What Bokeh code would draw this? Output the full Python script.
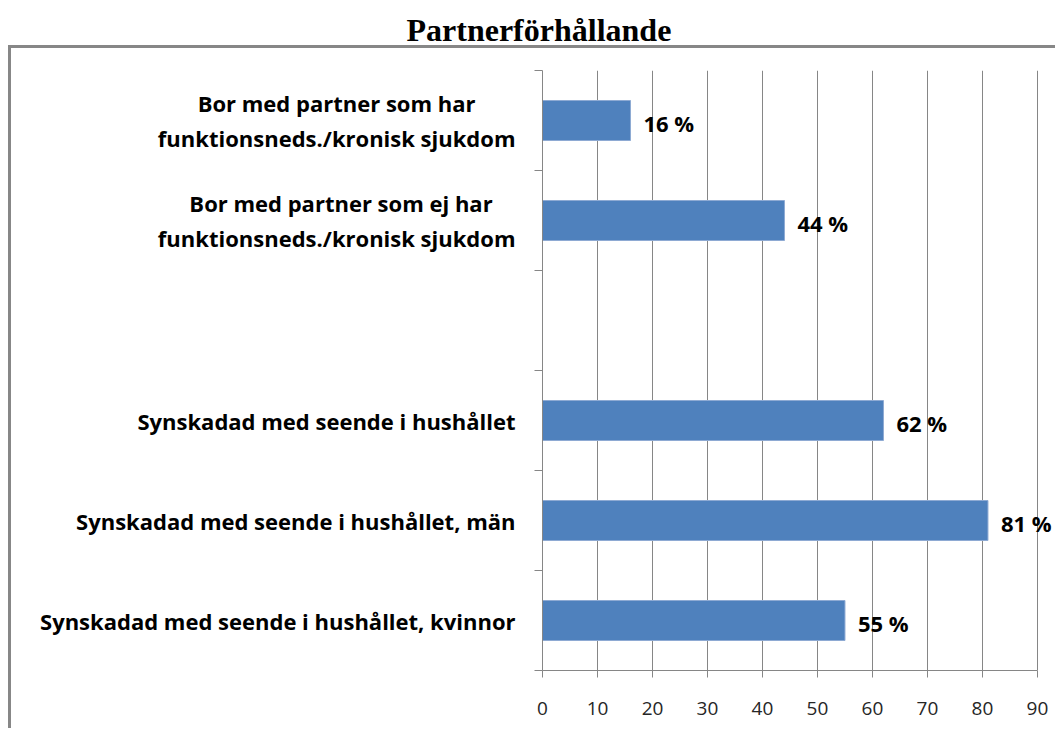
from bokeh.plotting import figure
from bokeh.models import Range1d, FixedTicker, ColumnDataSource, LinearAxis
from bokeh.core.properties import value
from bokeh.embed import file_html
from bokeh.resources import INLINE

title = "Partnerförhållande"
categories = [
    "Bor med partner som har\nfunktionsneds./kronisk sjukdom",
    "Bor med partner som ej har\nfunktionsneds./kronisk sjukdom",
    "",
    "Synskadad med seende i hushållet",
    "Synskadad med seende i hushållet, män",
    "Synskadad med seende i hushållet, kvinnor",
]
values = [16, 44, None, 62, 81, 55]
x_ticks = [0, 10, 20, 30, 40, 50, 60, 70, 80, 90]

FONT = "Open Sans"
W, H = 1055, 728
p = figure(width=W, height=H, output_backend="svg", toolbar_location=None,
           x_range=Range1d(0, 93.1), y_range=Range1d(len(categories), 0),
           min_border_left=542, min_border_right=1, min_border_top=70,
           min_border_bottom=58)
p.outline_line_color = None
p.background_fill_color = None
p.border_fill_color = None
# chart-area border (top and left edges, as in the reference)
p.styles = {"background":
            "linear-gradient(#878787,#878787) 8px 45px / 3000px 3px no-repeat, "
            "linear-gradient(#878787,#878787) 8px 45px / 3px 3000px no-repeat, #ffffff"}

xa = p.below[0]
ya = p.left[0]

# invisible (white) spacer between the title and the plot area
spacer = LinearAxis(ticker=FixedTicker(ticks=[45]), axis_line_color=None,
                    major_tick_line_color="#ffffff", minor_tick_line_color=None,
                    major_tick_out=22, major_tick_in=0, minor_tick_out=0,
                    major_label_text_font_size="0px", major_label_text_color=None,
                    major_label_standoff=0)
p.add_layout(spacer, "above")

p.title.text = title
p.title.align = "left"
p.title.offset = -136
p.title.standoff = 2
p.title.text_font = "Liberation Serif"
p.title.text_font_style = "bold"
p.title.text_font_size = "32px"
p.title.text_color = "black"

# bars
ys = [i + 0.5 for i, v in enumerate(values) if v is not None]
vs = [v for v in values if v is not None]
src = ColumnDataSource(dict(y=ys, v=vs, lab=[f"{v} %" for v in vs]))
p.hbar(y="y", left=0, right="v", height=0.4, source=src,
       fill_color="#4F81BD", line_color="#8EAAD3", line_width=1)
p.text(x="v", y="y", text="lab", source=src, x_offset=13, y_offset=2,
       text_font=value(FONT), text_font_style="bold", text_font_size="22px",
       text_color="black", text_align="left", text_baseline="middle")

# x axis
xa.ticker = FixedTicker(ticks=x_ticks)
xa.bounds = (0, 90)
xa.axis_line_color = "#868686"
xa.major_tick_line_color = "#868686"
xa.major_tick_out = 7
xa.major_tick_in = 0
xa.minor_tick_line_color = None
xa.major_label_text_font = FONT
xa.major_label_text_font_size = "19px"
xa.major_label_text_color = "#262626"
xa.major_label_standoff = 24


def centred(label, em=12.0, space=5.75):
    """Right-aligned multi-line axis label -> pad shorter lines so they look centred."""
    lines = label.split("\n")
    if len(lines) < 2:
        return label
    n = max(len(s) for s in lines)
    out = []
    for s in lines:
        pad = int(round((n - len(s)) * em / 2 / space))
        out.append(s + "\u00a0" * pad)
    return "\n".join(out)


# y axis (labels at centres, ticks at category boundaries)
ya.ticker = FixedTicker(ticks=[i + 0.5 for i in range(len(categories))],
                        minor_ticks=list(range(len(categories) + 1)))
ya.major_label_overrides = {i + 0.5: centred(c) for i, c in enumerate(categories)}
ya.axis_line_color = "#868686"
ya.major_tick_line_color = None
ya.major_tick_out = 0
ya.major_tick_in = 0
ya.minor_tick_line_color = "#868686"
ya.minor_tick_out = 8
ya.minor_tick_in = 0
ya.major_label_text_font = FONT
ya.major_label_text_font_style = "bold"
ya.major_label_text_font_size = "22px"
ya.major_label_text_color = "black"
ya.major_label_text_line_height = 1.15
ya.major_label_standoff = 19

p.xgrid.ticker = FixedTicker(ticks=x_ticks)
p.xgrid.grid_line_color = "#868686"
p.ygrid.grid_line_color = None

open("out.html", "w").write(file_html(p, INLINE))
